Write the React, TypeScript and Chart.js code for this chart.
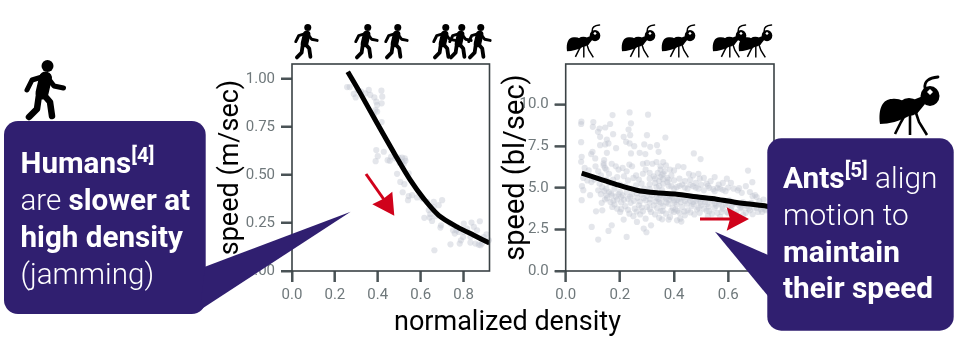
import React, { useEffect, useRef } from "react";
import { Chart, registerables } from "chart.js";

Chart.register(...registerables);

const humanXTicks = [0, 0.2, 0.4, 0.6, 0.8];
const humanYTicks = [0, 0.25, 0.5, 0.75, 1];
const antXTicks = [0, 0.2, 0.4, 0.6];
const antYTicks = [0, 2.5, 5, 7.5, 10];

const humanPoints: number[][] = [
  [.257,.958],[.269,.958],[.288,.922],[.297,.904],[.306,.943],[.322,.934],[.342,.925],[.358,.943],[.365,.917],[.384,.904],
  [.393,.882],[.417,.939],[.421,.908],[.418,.873],[.397,.864],[.389,.838],[.397,.830],[.418,.776],[.381,.812],[.393,.630],
  [.428,.621],[.400,.598],[.390,.572],[.446,.577],[.462,.595],[.456,.574],[.482,.586],[.498,.591],[.513,.591],[.526,.586],
  [.529,.574],[.513,.569],[.521,.557],[.502,.563],[.490,.506],[.505,.464],[.524,.452],[.544,.508],[.516,.410],[.544,.390],
  [.541,.369],[.560,.395],[.583,.383],[.607,.377],[.630,.360],[.661,.360],[.700,.369],[.684,.343],[.661,.334],[.638,.317],
  [.645,.296],[.617,.277],[.642,.278],[.653,.261],[.669,.285],[.695,.238],[.692,.226],[.739,.247],[.751,.212],[.759,.195],
  [.767,.212],[.778,.203],[.801,.247],[.816,.221],[.837,.252],[.876,.259],[.848,.230],[.798,.177],[.788,.160],[.782,.143],
  [.739,.139],[.832,.148],[.855,.143],[.879,.134],[.894,.177],[.907,.191],[.918,.160],[.664,.108],[.871,.137],[.886,.143],
  [.801,.203],[.832,.177],[.863,.212],
];
const humanTrend: number[][] = [
  [.260,1.038],[.319,.925],[.397,.769],[.482,.603],[.552,.473],[.614,.377],[.684,.290],[.770,.230],[.848,.186],[.921,.146],
];

const antPoints: number[][] = [
  [.058,8.98],[.057,8.84],[.102,8.96],[.100,8.67],[.057,7.75],[.125,8.57],[.146,8.63],[.164,8.84],[.173,9.38],[.236,9.54],
  [.304,9.40],[.241,8.88],[.232,8.51],[.238,8.17],[.119,8.37],[.127,8.07],[.214,8.07],[.175,8.23],[.300,8.17],[.368,8.03],
  [.152,7.91],[.127,7.57],[.146,7.61],[.158,7.67],[.186,7.39],[.223,7.77],[.236,7.67],[.253,7.51],[.290,7.61],[.312,7.47],
  [.337,7.57],[.099,7.17],[.094,7.03],[.059,6.87],[.057,6.57],[.109,6.77],[.152,7.11],[.142,6.67],[.140,6.47],[.241,7.07],
  [.273,7.11],[.294,7.03],[.473,7.07],[.498,6.73],[.343,7.17],[.673,6.04],[.689,5.34],[.699,4.56],[.096,2.65],[.158,2.41],
  [.170,2.75],[.120,1.89],[.225,2.05],[.288,2.55],[.298,2.33],[.263,2.95],[.315,2.75],[.214,3.09],[.201,3.55],[.112,3.59],
  [.135,3.65],[.059,4.26],[.065,4.86],[.090,4.56],[.133,4.10],[.411,3.05],[.423,3.15],[.380,3.09],[.356,3.11],[.427,2.97],
  [.065,5.6],[.08,5.45],[.095,5.35],[.105,5.5],[.07,6.2],[.085,6.05],[.11,6.3],[.12,6.0],[.125,5.25],[.12,4.85],[.135,5.05],[.06,5.1],
  [.14,6.35],[.145,6.2],[.15,6.1],[.16,5.85],[.17,6.45],[.185,6.3],[.195,6.1],[.13,5.75],[.15,5.5],[.16,5.3],[.175,5.5],[.19,5.65],
  [.15,4.95],[.16,4.75],[.17,4.55],[.18,4.95],[.19,4.3],[.15,4.55],[.165,4.15],[.18,4.0],[.19,3.75],[.145,4.3],[.2,5.2],[.2,4.75],[.205,4.45],
  [.21,6.2],[.225,6.0],[.235,6.4],[.245,6.3],[.215,5.7],[.23,5.45],[.25,5.6],[.26,5.75],[.27,5.5],[.285,5.85],[.295,6.1],[.3,6.5],[.285,6.45],
  [.22,5.1],[.24,4.95],[.26,5.15],[.28,5.25],[.29,4.95],[.21,4.55],[.23,4.35],[.245,4.6],[.265,4.4],[.28,4.6],[.295,4.25],[.22,3.9],[.24,4.1],
  [.255,3.75],[.27,3.95],[.285,3.6],[.3,3.85],[.235,3.45],[.25,3.3],[.275,3.4],[.295,3.15],
  [.31,5.9],[.32,6.45],[.335,6.55],[.35,6.3],[.36,6.55],[.37,6.35],[.385,6.1],[.4,6.05],[.31,5.55],[.325,5.7],[.34,5.9],[.35,5.65],[.36,5.85],
  [.375,5.6],[.39,5.75],[.4,5.45],[.31,5.2],[.33,5.3],[.345,5.1],[.36,5.25],[.375,5.35],[.39,5.1],[.305,4.75],[.32,4.55],[.335,4.4],[.35,4.55],
  [.37,4.35],[.385,4.5],[.4,4.25],[.31,4.1],[.325,3.95],[.345,4.15],[.36,3.9],[.38,4.05],[.395,3.8],[.315,3.55],[.33,3.4],[.35,3.6],[.37,3.45],
  [.385,3.25],[.4,3.55],[.345,3.2],
  [.415,6.3],[.435,6.25],[.455,5.85],[.47,5.75],[.49,5.85],[.42,5.55],[.44,5.4],[.46,5.5],[.48,5.3],[.495,5.55],[.41,5.05],[.43,5.2],[.45,4.95],
  [.47,5.1],[.49,4.95],[.42,4.35],[.44,4.2],[.455,4.4],[.47,4.15],[.49,4.3],[.41,4.0],[.43,3.85],[.45,3.65],[.465,3.9],[.485,3.7],[.5,3.95],
  [.42,3.5],[.44,3.35],[.475,3.4],[.495,3.5],[.405,3.7],
  [.51,5.6],[.52,5.25],[.535,5.4],[.55,5.65],[.565,5.2],[.58,5.3],[.595,5.55],[.51,4.85],[.53,5.0],[.55,4.8],[.57,4.95],[.59,4.8],[.515,4.15],
  [.535,4.3],[.55,4.05],[.57,4.2],[.59,4.05],[.51,3.75],[.53,3.6],[.55,3.8],[.56,3.5],[.58,3.75],[.595,3.55],[.525,3.3],[.57,3.25],
  [.61,5.3],[.62,4.95],[.635,4.85],[.65,4.7],[.665,5.1],[.68,4.75],[.69,4.5],[.605,4.25],[.62,4.05],[.64,3.95],[.655,4.15],[.67,3.9],[.685,4.1],
  [.695,3.8],[.61,3.7],[.63,3.55],[.65,3.75],[.665,3.5],[.68,3.65],[.64,3.25],[.615,3.35],
  [.705,4.45],[.715,4.2],[.73,4.3],[.705,3.8],[.72,3.9],[.735,3.7],[.745,3.85],[.725,3.55],[.71,3.55],[.74,3.65],
  [.13,4.62],[.142,4.82],[.153,4.38],[.168,4.66],[.176,4.22],[.185,4.48],[.195,4.62],[.205,4.12],[.215,4.28],[.225,4.72],[.238,4.46],[.252,4.22],
  [.262,4.68],[.274,4.18],[.288,4.38],[.3,4.52],[.312,4.32],[.322,4.72],[.332,4.18],[.342,4.34],[.352,4.08],[.362,4.42],[.372,4.12],[.382,4.28],
  [.392,4.4],[.402,4.12],[.412,4.28],[.425,4.14],[.435,4.42],[.448,4.05],[.46,4.22],[.472,4.02],[.482,4.18],[.498,4.12],[.505,4.32],[.522,4.02],
  [.528,3.88],[.542,4.18],[.556,3.92],[.566,4.05],[.578,3.88],[.588,4.22],[.6,3.95],[.612,3.85],[.628,4.1],[.645,3.82],[.66,3.98],[.675,3.75],
  [.172,3.85],[.205,3.72],[.23,3.68],[.262,3.58],[.28,3.82],[.31,3.72],[.338,3.78],[.358,3.62],[.39,3.62],[.412,3.62],[.438,3.58],[.46,3.52],
  [.49,3.82],[.52,3.62],[.54,3.45],[.575,3.55],[.6,3.48],[.625,3.42],[.655,3.38],[.69,3.42],[.72,3.72],[.73,3.82],
  [.31,4.92],[.335,5.05],[.355,4.88],[.38,5.12],[.4,4.95],[.42,5.12],[.44,5.02],[.46,5.18],[.48,5.02],[.5,5.18],[.525,5.12],[.545,4.92],[.56,5.0],
  [.58,4.88],[.6,5.02],[.64,4.98],[.36,5.52],[.345,5.42],[.38,5.48],[.33,5.55],[.355,5.78],[.365,6.0],[.35,6.1],
];
const antTrend: number[][] = [
  [.059,5.88],[.121,5.56],[.188,5.20],[.262,4.86],[.336,4.70],[.410,4.62],[.483,4.46],[.557,4.32],[.631,4.12],[.742,3.90],[.769,3.84],
];

const frame = {
  id: "frame",
  afterDatasetsDraw(chart: any) {
    const { ctx, chartArea: a, scales } = chart;
    ctx.save();
    ctx.strokeStyle = "#4a5356";
    ctx.lineWidth = 2;
    ctx.beginPath();
    for (const t of scales.x.ticks) {
      const px = scales.x.getPixelForValue(t.value);
      ctx.moveTo(px, a.bottom);
      ctx.lineTo(px, a.bottom + 11);
    }
    for (const t of scales.y.ticks) {
      const py = scales.y.getPixelForValue(t.value);
      ctx.moveTo(a.left, py);
      ctx.lineTo(a.left - 11, py);
    }
    ctx.stroke();
    ctx.strokeStyle = "#3a4245";
    ctx.lineWidth = 1.6;
    ctx.strokeRect(a.left, a.top, a.right - a.left, a.bottom - a.top);
    ctx.restore();
  },
};

function makeChart(
  canvas: HTMLCanvasElement,
  o: {
    points: number[][]; trend: number[][]; xTicks: number[]; yTicks: number[];
    xMax: number; yMax: number; yDigits: number; title: string; axisW: number;
    padRight: number; titlePad: number; titleSize: number;
  }
) {
  const tick = { color: "#6f787b", font: { family: "Roboto", size: 15 } };
  return new Chart(canvas, {
    type: "scatter",
    data: {
      datasets: [
        {
          data: o.trend.map(([x, y]) => ({ x, y })),
          showLine: true, borderColor: "#000", borderWidth: 5, pointRadius: 0,
          tension: 0.3, order: 1, borderCapStyle: "butt",
        },
        {
          data: o.points.map(([x, y]) => ({ x, y })),
          pointRadius: 3.1, pointBorderWidth: 0, pointBackgroundColor: "rgba(190,195,208,0.42)",
          order: 2, clip: false,
        },
      ],
    } as any,
    options: {
      animation: false, responsive: false,
      layout: { autoPadding: false, padding: { top: 10, right: o.padRight, bottom: 0, left: 0 } },
      plugins: { legend: { display: false }, tooltip: { enabled: false } },
      scales: {
        x: {
          type: "linear", min: 0, max: o.xMax,
          grid: { drawOnChartArea: false, tickColor: "#4a5356", tickWidth: 2, tickLength: 11 },
          border: { display: false },
          ticks: { ...tick, padding: 4, maxRotation: 0, callback: (v: any) => Number(v).toFixed(1) },
          afterBuildTicks: (s: any) => { s.ticks = o.xTicks.map((value) => ({ value })); },
          afterFit: (s: any) => { s.height = 36; },
        },
        y: {
          type: "linear", min: 0, max: o.yMax,
          grid: { drawOnChartArea: false, tickColor: "#4a5356", tickWidth: 2, tickLength: 11 },
          border: { display: false },
          ticks: { ...tick, padding: 6, callback: (v: any) => Number(v).toFixed(o.yDigits) },
          title: {
            display: true, text: o.title, color: "#000",
            font: { family: "Roboto", size: o.titleSize }, padding: { top: o.titlePad, bottom: 0 },
          },
          afterBuildTicks: (s: any) => { s.ticks = o.yTicks.map((value) => ({ value })); },
          afterFit: (s: any) => { s.width = o.axisW; },
        },
      },
    } as any,
    plugins: [frame],
  } as any);
}

const Walker = ({ left, top, s }: { left: number; top: number; s: number }) => (
  <g transform={`translate(${left - 4 * s} ${top - 5 * s}) scale(${s})`} fill="none" stroke="#000" strokeLinecap="round" strokeLinejoin="round">
    <circle cx={27.5} cy={11} r={6} fill="#000" stroke="none" />
    <path d="M25.5 23 L22 38" strokeWidth={13} />
    <path d="M22 22 L12 25 L7 35" strokeWidth={5} />
    <path d="M28 23 L34 31 L43.5 33" strokeWidth={5} />
    <path d="M24 40 L30 47 L32 61" strokeWidth={6.5} />
    <path d="M19 40 L17 54 L9 62" strokeWidth={6.5} />
  </g>
);

const Ant = ({ left, top, s }: { left: number; top: number; s: number }) => (
  <g transform={`translate(${left - 5 * s} ${top - 5 * s}) scale(${s})`}>
    <path d="M5 52 C3 36 8 27 17 27 C25 26 30 30 33 33 L34 44 C25 49 14 52 5 52 Z" fill="#000" />
    <ellipse cx={34} cy={35} rx={11} ry={9} fill="#000" />
    <path d="M38 28 L48 24 L50 32 L41 43 Z" fill="#000" />
    <ellipse cx={55} cy={24} rx={9.5} ry={10} fill="#000" />
    <path d="M50 16 C49 9 54 6 63 5" fill="none" stroke="#000" strokeWidth={2.8} strokeLinecap="round" />
    <path d="M55 17 L58 20 L55 23 L52 20 Z" fill="#fff" />
    <path d="M31 41 L26 50 L20 62 M35 42 L35 63 M41 41 L44 50 L52 63" fill="none" stroke="#000" strokeWidth={2.6} />
  </g>
);

const NAVY = "#301f70";
const RED = "#d0021b";
const leftText = { fontFamily: "Roboto", fontSize: 29.6, fill: "#fff" } as const;
const rightText = { fontFamily: "Roboto", fontSize: 29.8, fill: "#fff" } as const;

export default function App() {
  const leftRef = useRef<HTMLCanvasElement>(null);
  const rightRef = useRef<HTMLCanvasElement>(null);

  useEffect(() => {
    document.body.style.margin = "0";
    const a = makeChart(leftRef.current!, {
      points: humanPoints, trend: humanTrend, xTicks: humanXTicks, yTicks: humanYTicks,
      xMax: 0.921, yMax: 1.078, yDigits: 2, title: "speed (m/sec)", axisW: 84,
      padRight: 18.5, titlePad: 7, titleSize: 27,
    });
    const b = makeChart(rightRef.current!, {
      points: antPoints, trend: antTrend, xTicks: antXTicks, yTicks: antYTicks,
      xMax: 0.769, yMax: 12.45, yDigits: 1, title: "speed (bl/sec)", axisW: 65.7,
      padRight: 12, titlePad: -1, titleSize: 29,
    });
    return () => { a.destroy(); b.destroy(); };
  }, []);

  return (
    <div style={{ position: "absolute", left: 0, top: 0, width: 966, height: 357, overflow: "hidden", background: "#fff" }}>
      <canvas ref={leftRef} width={300} height={258} style={{ position: "absolute", left: 208, top: 49 }} />
      <canvas ref={rightRef} width={286} height={258} style={{ position: "absolute", left: 500, top: 49 }} />
      <svg width={966} height={357} style={{ position: "absolute", left: 0, top: 0 }}>
        {[294, 354, 384, 432, 448, 467].map((x) => <Walker key={x} left={x} top={24} s={0.586} />)}
        <Walker left={24} top={60} s={1} />
        {[567, 622, 662, 713, 739].map((x) => <Ant key={x} left={x} top={25} s={0.56} />)}
        <Ant left={880} top={77} s={1} />

        <path d="M366 174 L385 201" stroke={RED} strokeWidth={3} fill="none" />
        <path d="M394.3 215.7 L392.3 191.7 L383 199 L372.3 204.3 Z" fill={RED} />
        <path d="M700 219 L735 219" stroke={RED} strokeWidth={3} fill="none" />
        <path d="M749 219 L726.7 207.3 L730 219 L726.7 230.7 Z" fill={RED} />

        <rect x={4} y={121} width={201.7} height={193} rx={14} fill={NAVY} />
        <path d="M205 266.7 L350.7 211.7 L200 310 Z" fill={NAVY} />
        <rect x={767.3} y={138.3} width={186.4} height={192.4} rx={14} fill={NAVY} />
        <path d="M768 255 L715 231.7 L768 296 Z" fill={NAVY} />

        <text x={20.5} y={173} style={leftText}>
          <tspan fontWeight={700}>Humans</tspan>
          <tspan fontWeight={700} fontSize={20.5} dy={-11}>[4]</tspan>
        </text>
        <text x={20.5} y={210} style={leftText}>
          <tspan fontWeight={300}>are </tspan><tspan fontWeight={700}>slower at</tspan>
        </text>
        <text x={20.5} y={247} style={leftText} fontWeight={700}>high density</text>
        <text x={20.5} y={284} style={leftText} fontWeight={300}>(jamming)</text>

        <text x={783} y={188} style={rightText}>
          <tspan fontWeight={700}>Ants</tspan>
          <tspan fontWeight={700} fontSize={20.5} dy={-11}>[5]</tspan>
          <tspan fontWeight={300} dy={11}> align</tspan>
        </text>
        <text x={783} y={225} style={rightText} fontWeight={300}>motion to</text>
        <text x={783} y={262} style={rightText} fontWeight={700}>maintain</text>
        <text x={783} y={298} style={rightText} fontWeight={700}>their speed</text>

        <text x={507.5} y={330} textAnchor="middle" fill="#000" style={{ fontFamily: "Roboto", fontSize: 27 }}>normalized density</text>
      </svg>
    </div>
  );
}
